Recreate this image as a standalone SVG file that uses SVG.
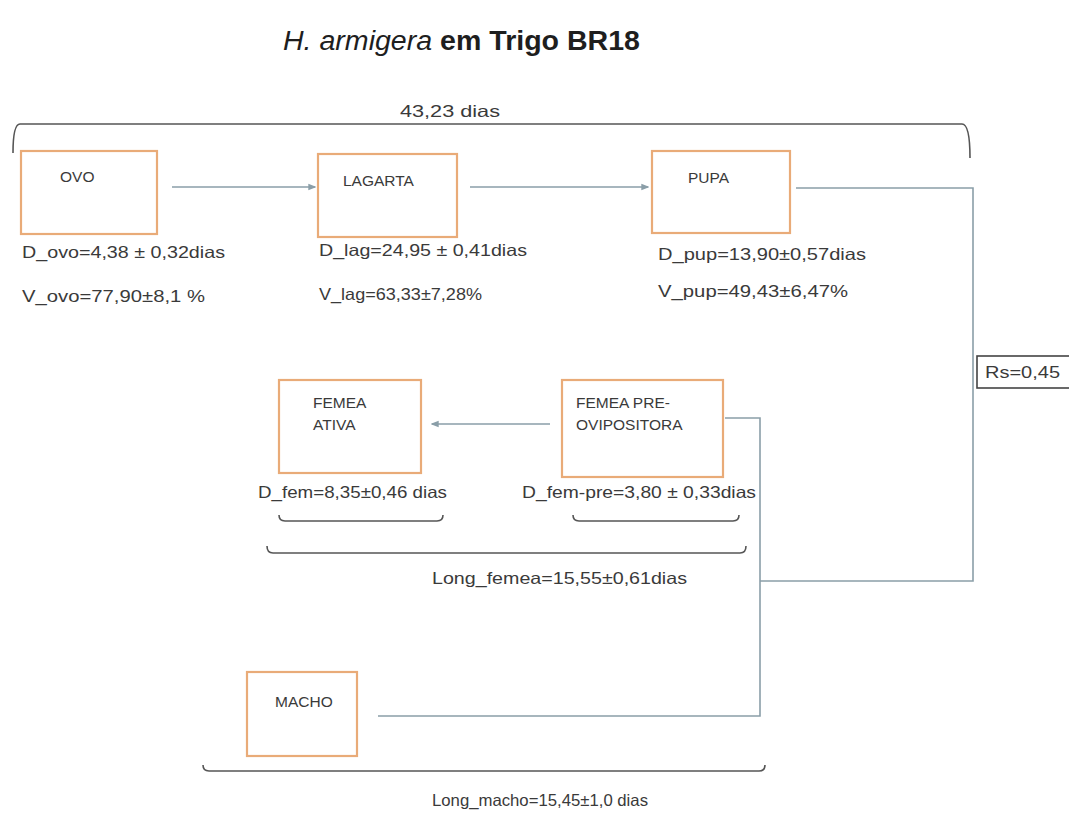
<svg xmlns="http://www.w3.org/2000/svg" width="1069" height="814" viewBox="0 0 1069 814">
<defs>
<style>
.box{fill:#fff;stroke:#e9ab78;stroke-width:2.2}
.lbl{font-family:"Liberation Sans",Arial,sans-serif;font-size:15.5px;fill:#3a3a3a}
.val{font-family:"Liberation Sans",Arial,sans-serif;font-size:16.5px;fill:#3a3a3a}
.con{fill:none;stroke:#8a9ea8;stroke-width:1.6}
.brk{fill:none;stroke:#555;stroke-width:1.6}
</style>
<marker id="ah" viewBox="0 0 6 6" refX="5" refY="3" markerWidth="5" markerHeight="5" orient="auto">
<path d="M0,0.5 L6,3 L0,5.5 Z" fill="#8a9ea8"/>
</marker>
</defs>
<rect width="1069" height="814" fill="#fff"/>

<text x="283" y="50" font-family="'Liberation Sans',Arial,sans-serif" font-size="27" fill="#1e1e1e" textLength="357" lengthAdjust="spacingAndGlyphs"><tspan font-style="italic">H. armigera</tspan><tspan font-weight="bold"> em Trigo BR18</tspan></text>

<g id="bracket-top">
<path class="brk" d="M13,153 Q13,124 20,124 L962,124 Q970,124 970,158" stroke="#777"/>
<text class="val" x="400" y="117" font-size="18" textLength="100" lengthAdjust="spacingAndGlyphs">43,23 dias</text>
</g>

<g id="connectors">
<line class="con" x1="172" y1="187" x2="315" y2="187" marker-end="url(#ah)"/>
<line class="con" x1="470" y1="187" x2="648" y2="187" marker-end="url(#ah)"/>
<polyline class="con" points="796,188 973,188 973,581 760,581"/>
<line class="con" x1="550" y1="424" x2="432" y2="424" marker-end="url(#ah)"/>
<polyline class="con" points="725,418 760,418 760,716 378,716"/>
</g>

<g id="ovo">
<rect class="box" x="21" y="151" width="136" height="83"/>
<text class="lbl" x="60" y="182">OVO</text>
<text class="val" x="22" y="258" textLength="203" lengthAdjust="spacingAndGlyphs">D_ovo=4,38 ± 0,32dias</text>
<text class="val" x="22" y="302" textLength="183" lengthAdjust="spacingAndGlyphs">V_ovo=77,90±8,1 %</text>
</g>

<g id="lagarta">
<rect class="box" x="318" y="154" width="139" height="83"/>
<text class="lbl" x="343" y="186">LAGARTA</text>
<text class="val" x="319" y="256" textLength="208" lengthAdjust="spacingAndGlyphs">D_lag=24,95 ± 0,41dias</text>
<text class="val" x="319" y="300" textLength="163" lengthAdjust="spacingAndGlyphs">V_lag=63,33±7,28%</text>
</g>

<g id="pupa">
<rect class="box" x="652" y="151" width="138" height="82"/>
<text class="lbl" x="688" y="183">PUPA</text>
<text class="val" x="658" y="260" textLength="208" lengthAdjust="spacingAndGlyphs">D_pup=13,90±0,57dias</text>
<text class="val" x="658" y="297" textLength="190" lengthAdjust="spacingAndGlyphs">V_pup=49,43±6,47%</text>
</g>

<g id="rs">
<rect x="977" y="356" width="100" height="32" fill="#fff" stroke="#444" stroke-width="1.6"/>
<text class="val" x="985" y="378" textLength="75" lengthAdjust="spacingAndGlyphs">Rs=0,45</text>
</g>

<g id="femea-ativa">
<rect class="box" x="279" y="380" width="142" height="93"/>
<text class="lbl" x="313" y="408">FEMEA</text>
<text class="lbl" x="313" y="430">ATIVA</text>
<text class="val" x="258" y="498" textLength="189" lengthAdjust="spacingAndGlyphs">D_fem=8,35±0,46 dias</text>
<path class="brk" d="M279,515 Q279,521 285,521 L437,521 Q443,521 443,515"/>
</g>

<g id="femea-pre">
<rect class="box" x="562" y="380" width="161" height="97"/>
<text class="lbl" x="576" y="408">FEMEA PRE-</text>
<text class="lbl" x="576" y="430">OVIPOSITORA</text>
<text class="val" x="522" y="498" textLength="234" lengthAdjust="spacingAndGlyphs">D_fem-pre=3,80 ± 0,33dias</text>
<path class="brk" d="M573,515 Q573,521 579,521 L733,521 Q739,521 739,515"/>
</g>

<g id="long-femea">
<path class="brk" d="M267,546 Q267,553 273,553 L740,553 Q746,553 746,546"/>
<text class="val" x="432" y="584" textLength="255" lengthAdjust="spacingAndGlyphs">Long_femea=15,55±0,61dias</text>
</g>

<g id="macho">
<rect class="box" x="247" y="672" width="110" height="84"/>
<text class="lbl" x="275" y="707">MACHO</text>
<path class="brk" d="M203,765 Q203,771 209,771 L759,771 Q765,771 765,765"/>
<text class="val" x="432" y="806" textLength="216" lengthAdjust="spacingAndGlyphs">Long_macho=15,45±1,0 dias</text>
</g>
</svg>
